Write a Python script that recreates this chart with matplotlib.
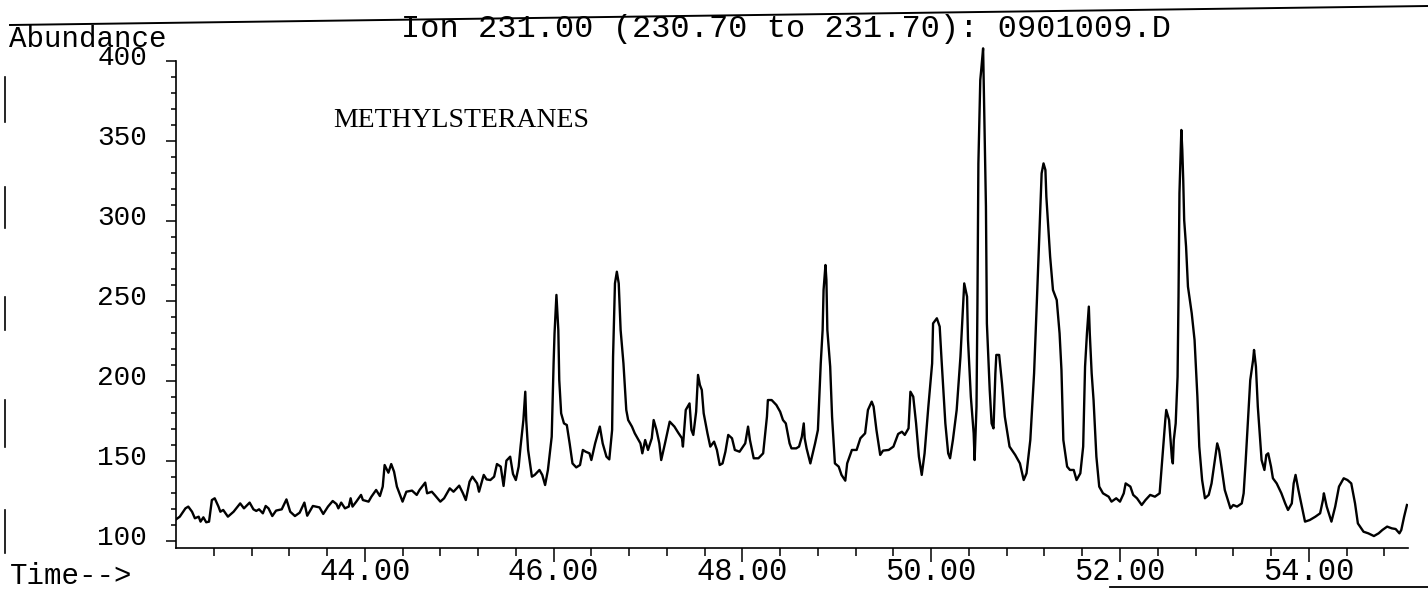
import matplotlib
matplotlib.use("Agg")
import matplotlib.pyplot as plt
from matplotlib.lines import Line2D
from matplotlib.transforms import ScaledTranslation

W, H = 1428, 589

# retention time (min) / abundance
rt_a = [42.00, 42.04, 42.10, 42.13, 42.17, 42.20, 42.24, 42.26, 42.29, 42.32,
        42.35, 42.38, 42.41, 42.45, 42.47, 42.50, 42.55, 42.61, 42.68, 42.72,
        42.78, 42.82, 42.85, 42.88, 42.92, 42.95, 42.98, 43.02, 43.06, 43.12,
        43.17, 43.21, 43.26, 43.31, 43.36, 43.39, 43.45, 43.52, 43.56, 43.61,
        43.66, 43.70, 43.72, 43.75, 43.79, 43.83, 43.85, 43.87, 43.91, 43.96,
        43.98, 44.04, 44.07, 44.12, 44.16, 44.19, 44.21, 44.25, 44.28, 44.31,
        44.34, 44.40, 44.44, 44.50, 44.55, 44.58, 44.64, 44.66, 44.71, 44.74,
        44.80, 44.84, 44.90, 44.94, 45.00, 45.04, 45.07, 45.11, 45.14, 45.19,
        45.21, 45.26, 45.29, 45.33, 45.37, 45.40, 45.44, 45.47, 45.50, 45.54,
        45.57, 45.60, 45.63, 45.65, 45.68, 45.70, 45.71, 45.73, 45.77, 45.80,
        45.85, 45.88, 45.91, 45.94, 45.98]
ab_a = [113.5, 115.2, 120.4, 121.5, 118.3, 114.2, 115.2, 112.1, 114.8, 111.7,
        112.1, 125.6, 126.7, 121.5, 118.3, 119.4, 115.2, 118.3, 123.5, 120.4,
        124.0, 119.8, 118.8, 119.8, 117.3, 121.9, 120.4, 115.6, 119.0, 119.8,
        126.0, 118.3, 115.6, 117.7, 124.0, 115.8, 121.9, 121.0, 116.9, 121.5,
        125.0, 123.1, 120.4, 124.0, 120.4, 121.5, 126.7, 121.5, 124.6, 128.8,
        125.6, 124.6, 127.7, 131.9, 128.1, 134.0, 147.5, 142.7, 148.1, 143.3,
        134.0, 124.6, 130.8, 131.5, 128.8, 131.9, 136.5, 129.8, 130.8, 128.8,
        124.6, 126.7, 132.9, 130.8, 134.6, 129.8, 125.6, 137.1, 140.2, 136.0,
        130.8, 141.3, 138.5, 138.1, 140.2, 148.1, 146.5, 134.4, 150.2, 152.7,
        141.9, 138.1, 146.5, 159.0, 175.6, 193.3, 175.6, 156.9, 140.2, 141.3,
        144.4, 141.3, 135.0, 144.4, 165.2]

rt_b = [46.00, 46.01, 46.03, 46.05, 46.06, 46.08, 46.11, 46.14, 46.17, 46.20,
        46.24, 46.28, 46.31, 46.34, 46.38, 46.40, 46.44, 46.49, 46.52, 46.56,
        46.59, 46.62, 46.63, 46.65, 46.67, 46.69, 46.71, 46.74, 46.77, 46.79,
        46.83, 46.86, 46.92, 46.94, 46.97, 47.00, 47.04, 47.06, 47.09, 47.12,
        47.14, 47.18, 47.23, 47.28, 47.32, 47.36, 47.37, 47.40, 47.44, 47.46,
        47.48, 47.51, 47.53, 47.55, 47.57, 47.59, 47.63, 47.66, 47.70, 47.73,
        47.76, 47.79, 47.82, 47.85, 47.89, 47.92, 47.97, 48.03, 48.06, 48.08,
        48.12, 48.17, 48.22, 48.26, 48.27, 48.31, 48.36, 48.40, 48.43, 48.46,
        48.50, 48.52, 48.57, 48.60, 48.63, 48.65, 48.66, 48.68, 48.72, 48.77,
        48.80, 48.83, 48.85, 48.86, 48.88, 48.89, 48.90, 48.93, 48.95, 48.98,
        49.02, 49.05, 49.09, 49.11, 49.16, 49.21, 49.25, 49.30, 49.33, 49.37,
        49.39, 49.42, 49.46, 49.49, 49.55, 49.60, 49.65]
ab_b = [211.0, 229.8, 253.8, 231.9, 200.6, 179.8, 173.5, 172.5, 161.0, 148.5,
        146.0, 147.5, 156.9, 155.8, 154.8, 150.6, 161.0, 171.5, 161.0, 152.7,
        151.0, 169.4, 215.2, 261.0, 268.3, 261.0, 231.9, 211.0, 181.9, 175.6,
        171.5, 167.3, 161.0, 154.8, 163.1, 156.9, 164.2, 175.6, 169.4, 161.0,
        150.6, 161.0, 174.6, 171.5, 167.7, 164.2, 159.0, 181.9, 186.0, 169.4,
        166.3, 180.8, 203.8, 197.5, 194.4, 179.8, 167.3, 159.0, 162.1, 156.9,
        147.5, 148.5, 155.8, 166.3, 164.2, 156.9, 155.8, 161.0, 171.5, 163.1,
        151.7, 151.7, 154.8, 177.7, 188.1, 188.1, 185.0, 180.8, 175.6, 173.5,
        161.0, 157.9, 157.9, 159.0, 165.2, 173.5, 164.2, 157.9, 148.5, 161.0,
        169.4, 211.0, 231.9, 256.9, 272.5, 263.1, 231.9, 209.0, 177.7, 148.5,
        146.5, 141.3, 137.7, 148.5, 156.9, 156.9, 164.2, 167.3, 181.9, 187.1,
        184.0, 169.4, 153.8, 156.5, 156.9, 159.0, 166.9]

rt_c = [49.69, 49.72, 49.76, 49.78, 49.81, 49.84, 49.87, 49.90, 49.93, 49.97,
        50.01, 50.02, 50.06, 50.09, 50.11, 50.15, 50.18, 50.20, 50.23, 50.27,
        50.31, 50.33, 50.35, 50.38, 50.39, 50.42, 50.45, 50.46, 50.48, 50.49,
        50.50, 50.52, 50.53, 50.55, 50.56, 50.58, 50.59, 50.62, 50.64, 50.66,
        50.68, 50.69, 50.72, 50.75, 50.78, 50.83, 50.89, 50.94, 50.98, 51.01,
        51.05, 51.09, 51.12, 51.15, 51.17, 51.19, 51.21, 51.22, 51.26, 51.29,
        51.33, 51.36, 51.38, 51.40, 51.44, 51.47, 51.51, 51.54, 51.58, 51.61,
        51.63, 51.65, 51.67, 51.68, 51.70, 51.72, 51.75, 51.78, 51.82, 51.88,
        51.91, 51.96, 52.00, 52.04, 52.06, 52.11, 52.14, 52.18, 52.23, 52.27,
        52.32, 52.37, 52.42, 52.45, 52.48, 52.49, 52.52, 52.55]
ab_c = [168.3, 166.3, 170.4, 193.3, 190.2, 173.5, 152.7, 141.3, 154.8, 184.0,
        211.0, 236.0, 239.2, 234.0, 213.1, 173.5, 154.8, 151.7, 163.1, 181.9,
        215.2, 238.1, 261.0, 252.7, 225.6, 190.2, 167.3, 150.6, 184.0, 248.5,
        336.0, 388.1, 394.4, 407.9, 375.6, 309.0, 236.0, 194.4, 173.5, 170.4,
        204.8, 216.3, 216.3, 198.5, 177.7, 159.0, 153.8, 148.5, 138.1, 142.3,
        163.1, 204.8, 250.6, 298.5, 329.8, 336.0, 331.9, 315.2, 277.7, 256.9,
        250.6, 229.8, 206.9, 163.1, 146.5, 144.4, 144.4, 138.1, 142.3, 159.0,
        209.0, 229.8, 246.5, 229.8, 204.8, 188.1, 152.7, 134.0, 129.8, 127.7,
        124.6, 126.7, 124.6, 129.8, 136.0, 134.0, 128.8, 126.7, 122.5, 125.6,
        128.8, 127.7, 129.8, 152.7, 175.6, 181.9, 175.6, 151.7]

rt_d = [52.56, 52.57, 52.59, 52.61, 52.62, 52.63, 52.64, 52.65, 52.66, 52.67,
        52.68, 52.70, 52.72, 52.76, 52.79, 52.82, 52.84, 52.87, 52.90, 52.94,
        52.97, 53.01, 53.03, 53.05, 53.08, 53.11, 53.17, 53.20, 53.24, 53.29,
        53.31, 53.33, 53.36, 53.38, 53.41, 53.42, 53.44, 53.46, 53.48, 53.50,
        53.53, 53.55, 53.57, 53.60, 53.62, 53.66, 53.71, 53.75, 53.78, 53.82,
        53.84, 53.86, 53.89, 53.92, 53.96, 54.01, 54.07, 54.12, 54.15, 54.16,
        54.19, 54.24, 54.28, 54.32, 54.37, 54.41, 54.45, 54.49, 54.52, 54.58,
        54.63, 54.69, 54.74, 54.78, 54.83, 54.88, 54.92, 54.96, 54.98, 55.01,
        55.04]
ab_d = [148.5, 163.1, 173.5, 202.7, 252.7, 317.3, 336.0, 356.9, 344.4, 325.6,
        300.6, 284.0, 259.0, 242.3, 225.6, 190.2, 159.0, 138.1, 126.7, 128.8,
        136.0, 152.7, 161.0, 156.9, 144.4, 131.9, 120.4, 122.5, 121.5, 123.5,
        129.8, 148.5, 179.8, 200.6, 213.1, 219.4, 209.0, 184.0, 167.3, 150.6,
        144.4, 153.8, 154.8, 146.5, 139.2, 136.0, 129.8, 123.5, 119.4, 123.5,
        136.0, 141.3, 131.9, 123.5, 112.1, 113.1, 115.2, 117.3, 125.6, 129.8,
        121.5, 112.1, 121.5, 134.0, 139.2, 138.1, 136.0, 123.5, 111.0, 105.8,
        104.8, 103.1, 104.8, 106.9, 109.0, 107.9, 107.5, 104.8, 106.9, 115.2,
        122.5]

rt = rt_a + rt_b + rt_c + rt_d
abundance = ab_a + ab_b + ab_c + ab_d

x_major = [44.0, 46.0, 48.0, 50.0, 52.0, 54.0]
x_labels = ["44.00", "46.00", "48.00", "50.00", "52.00", "54.00"]
y_major = [100, 150, 200, 250, 300, 350, 400]
y_labels = ["100", "150", "200", "250", "300", "350", "400"]

title = "Ion 231.00 (230.70 to 231.70): 0901009.D"
annot = "METHYLSTERANES"

plt.rcParams['font.family'] = ['Liberation Mono', 'DejaVu Sans Mono']

fig = plt.figure(figsize=(W / 100, H / 100), dpi=100)
# axes placed in pixels: left 176, bottom 548, top 45
ax = fig.add_axes([176 / W, (H - 548.2) / H, 1231.9 / W, 503.2 / H])
ax.plot(rt, abundance, color='black', lw=1.7)
ax.set_xlim(42.0, 55.05)
ax.set_ylim(95.5, 410)

for s in ['top', 'right']:
    ax.spines[s].set_visible(False)
ax.spines['left'].set_bounds(95.5, 400)
ax.spines['left'].set_linewidth(1.2)
ax.spines['bottom'].set_linewidth(1.2)

x_minor = [round(42.4 + 0.4 * i, 1) for i in range(32)]
x_minor = [v for v in x_minor if v not in x_major]
y_minor = [v for v in range(110, 400, 10) if v % 50 != 0]

ax.set_xticks(x_major, x_labels)
ax.set_xticks(x_minor, minor=True)
ax.set_yticks(y_major, y_labels)
ax.set_yticks(y_minor, minor=True)

ax.tick_params(axis='x', which='major', length=10, width=1.1, pad=-3.5, labelsize=22)
ax.tick_params(axis='x', which='minor', length=5.5, width=1.1)
ax.tick_params(axis='y', which='major', length=7.2, width=1.1, pad=13.5, labelsize=20)
ax.tick_params(axis='y', which='minor', length=3.6, width=1.1)

# y labels sit a little above their ticks
for lab in ax.get_yticklabels():
    lab.set_transform(lab.get_transform() + ScaledTranslation(0, 6 / 100, fig.dpi_scale_trans))

fig.text(401 / W, 1 - 37 / H, title, fontsize=23, ha='left', va='baseline')
fig.text(9 / W, 1 - 47 / H, "Abundance", fontsize=21, ha='left', va='baseline')
fig.text(10 / W, 1 - 584 / H, "Time-->", fontsize=21, ha='left', va='baseline')
fig.text(333 / W, 1 - 126.7 / H, annot, fontsize=20, family='Liberation Serif',
         ha='left', va='baseline')

# scanned page edges
fig.add_artist(Line2D([10 / W, 1.0], [1 - 25 / H, 1 - 6 / H], color='black', lw=1.4))
fig.add_artist(Line2D([1110 / W, 1.0], [1 - 586.5 / H, 1 - 586.5 / H], color='black', lw=1.3))
for y0, y1 in [(77, 122), (187, 228), (297, 330), (400, 447), (510, 553)]:
    fig.add_artist(Line2D([5 / W, 5 / W], [1 - y0 / H, 1 - y1 / H], color='black', lw=1.2))

fig.savefig("out.png", dpi=100)
